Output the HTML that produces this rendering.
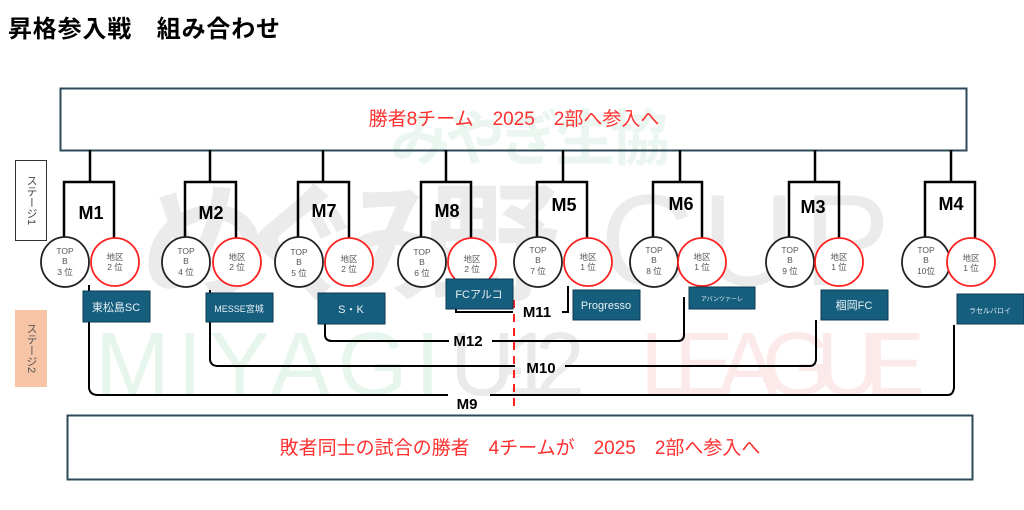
<!DOCTYPE html>
<html><head><meta charset="utf-8"><style>
html,body{margin:0;padding:0;background:#fff;}
svg{display:block;font-family:"Liberation Sans","Noto Sans CJK JP",sans-serif;}
</style></head><body>
<svg width="1024" height="510" viewBox="0 0 1024 510" xmlns="http://www.w3.org/2000/svg">
<!-- watermark -->
<g opacity="0.5">
<text x="390" y="160" font-size="60" fill="#d6efe0" font-weight="bold" textLength="280">みやぎ生協</text>
<text x="140" y="290" font-size="130" fill="#d8d8d8" font-weight="bold" textLength="420">めぐみ野</text>
<text x="600" y="285" font-size="130" fill="#d8d8d8" textLength="290">CUP</text>
<text x="95" y="395" font-size="90" fill="#cfeedd" textLength="345">MIYAGI</text>
<text x="450" y="395" font-size="90" fill="#d6d6d6" textLength="135">U-12</text>
<text x="640" y="395" font-size="90" fill="#fbd6d6" textLength="285">LEAGUE</text>
</g>
<text x="8" y="37" font-size="24" font-weight="bold" fill="#000" textLength="272">昇格参入戦　組み合わせ</text>
<rect x="60.5" y="88.5" width="906" height="62" fill="none" stroke="#2e4a5a" stroke-width="2"/>
<text x="514" y="125" font-size="19" fill="#ff3030" text-anchor="middle">勝者8チーム　2025　2部へ参入へ</text>
<rect x="15.5" y="160.5" width="31" height="80" fill="#fff" stroke="#333" stroke-width="1"/>
<text x="31" y="200" font-size="11" fill="#444" text-anchor="middle" writing-mode="tb">ステージ1</text>
<rect x="15" y="310" width="32" height="77" fill="#f7c4a6"/>
<text x="31" y="348" font-size="11" fill="#555" text-anchor="middle" writing-mode="tb">ステージ2</text>
<g stroke="#000" stroke-width="2.5" fill="none">
<path d="M90 150V182M64 240V182H114V240"/>
<path d="M210 150V182M185 240V182H236V240"/>
<path d="M323 150V182M298 240V182H349V240"/>
<path d="M446 150V182M421 240V182H471V240"/>
<path d="M563 150V182M537 240V182H587V240"/>
<path d="M680 150V182M653 240V182H702V240"/>
<path d="M815 150V182M789 240V182H839V240"/>
<path d="M951 150V182M925 240V182H975V240"/>
</g>
<g stroke="#000" stroke-width="2" fill="none">
<path d="M89 285V388Q90 395 98 395H448M490 395H948Q953 395 954 388V325"/>
<path d="M210 290V360Q211 366 218 366H515M565 366H810Q815 366 816 360V320"/>
<path d="M325 324V336Q326 341 332 341H449M492 341H678Q683 341 684 336V297"/>
<path d="M456 309V312H513M562 312H568V286"/>
</g>
<line x1="514" y1="300" x2="514" y2="406" stroke="#ff2020" stroke-width="2" stroke-dasharray="8,6"/>
<g font-weight="bold" font-size="18" text-anchor="middle" fill="#000">
<text x="91" y="219">M1</text><text x="211" y="219">M2</text><text x="324" y="217">M7</text><text x="447" y="217">M8</text>
<text x="564" y="211">M5</text><text x="681" y="210">M6</text><text x="813" y="213">M3</text><text x="951" y="210">M4</text>
<text x="537" y="317" font-size="15">M11</text><text x="468" y="346" font-size="15">M12</text>
<text x="541" y="373" font-size="15">M10</text><text x="467" y="409" font-size="15">M9</text>
</g>
<g fill="#fff" stroke-width="1.8">
<g stroke="#222">
<ellipse cx="65" cy="262" rx="24" ry="25"/><ellipse cx="186" cy="262" rx="24" ry="25"/><ellipse cx="299" cy="262" rx="24" ry="25"/><ellipse cx="422" cy="262" rx="24" ry="25"/>
<ellipse cx="538" cy="262" rx="24" ry="25"/><ellipse cx="654" cy="262" rx="24" ry="25"/><ellipse cx="790" cy="262" rx="24" ry="25"/><ellipse cx="926" cy="262" rx="24" ry="25"/>
</g>
<g stroke="#ff2020">
<circle cx="115" cy="262" r="24"/><circle cx="237" cy="262" r="24"/><circle cx="349" cy="262" r="24"/><circle cx="472" cy="262" r="24"/>
<circle cx="588" cy="262" r="24"/><circle cx="702" cy="262" r="24"/><circle cx="839" cy="262" r="24"/><circle cx="971" cy="262" r="24"/>
</g>
</g>
<g font-size="8.5" fill="#555" text-anchor="middle">
<text x="65" y="254">TOP</text><text x="65" y="264">B</text><text x="65" y="275">3 位</text>
<text x="186" y="254">TOP</text><text x="186" y="264">B</text><text x="186" y="275">4 位</text>
<text x="299" y="255">TOP</text><text x="299" y="265">B</text><text x="299" y="276">5 位</text>
<text x="422" y="255">TOP</text><text x="422" y="265">B</text><text x="422" y="276">6 位</text>
<text x="538" y="253">TOP</text><text x="538" y="263">B</text><text x="538" y="274">7 位</text>
<text x="654" y="253">TOP</text><text x="654" y="263">B</text><text x="654" y="274">8 位</text>
<text x="790" y="253">TOP</text><text x="790" y="263">B</text><text x="790" y="274">9 位</text>
<text x="926" y="253">TOP</text><text x="926" y="263">B</text><text x="926" y="274">10位</text>
<text x="115" y="260">地区</text><text x="115" y="270">2 位</text>
<text x="237" y="260">地区</text><text x="237" y="270">2 位</text>
<text x="349" y="262">地区</text><text x="349" y="272">2 位</text>
<text x="472" y="262">地区</text><text x="472" y="272">2 位</text>
<text x="588" y="260">地区</text><text x="588" y="270">1 位</text>
<text x="702" y="260">地区</text><text x="702" y="270">1 位</text>
<text x="839" y="260">地区</text><text x="839" y="270">1 位</text>
<text x="971" y="261">地区</text><text x="971" y="271">1 位</text>
</g>
<g fill="#155e7e" stroke="#0d3a4f" stroke-width="1">
<rect x="83" y="291" width="67" height="31"/><rect x="206" y="293" width="67" height="29"/><rect x="318" y="293" width="67" height="31"/><rect x="446" y="279" width="67" height="30"/>
<rect x="573" y="290" width="67" height="30"/><rect x="689" y="287" width="66" height="22"/><rect x="821" y="290" width="67" height="30"/><rect x="957" y="294" width="67" height="30"/>
</g>
<g fill="#e8f0f4" text-anchor="middle">
<text x="116" y="311" font-size="11">東松島SC</text><text x="239" y="312" font-size="9">MESSE宮城</text>
<text x="351" y="313" font-size="11">S・K</text><text x="479" y="298" font-size="11">FCアルコ</text>
<text x="606" y="309" font-size="11">Progresso</text><text x="722" y="301" font-size="6">アバンツァーレ</text>
<text x="854" y="309" font-size="11">椢岡FC</text><text x="990" y="313" font-size="7">ラセルバロイ</text>
</g>
<rect x="67.5" y="415.5" width="905" height="64" fill="#fff" stroke="#2e4a5a" stroke-width="2"/>
<text x="520" y="454" font-size="19" fill="#ff3030" text-anchor="middle">敗者同士の試合の勝者　4チームが　2025　2部へ参入へ</text>
</svg>
</body></html>
